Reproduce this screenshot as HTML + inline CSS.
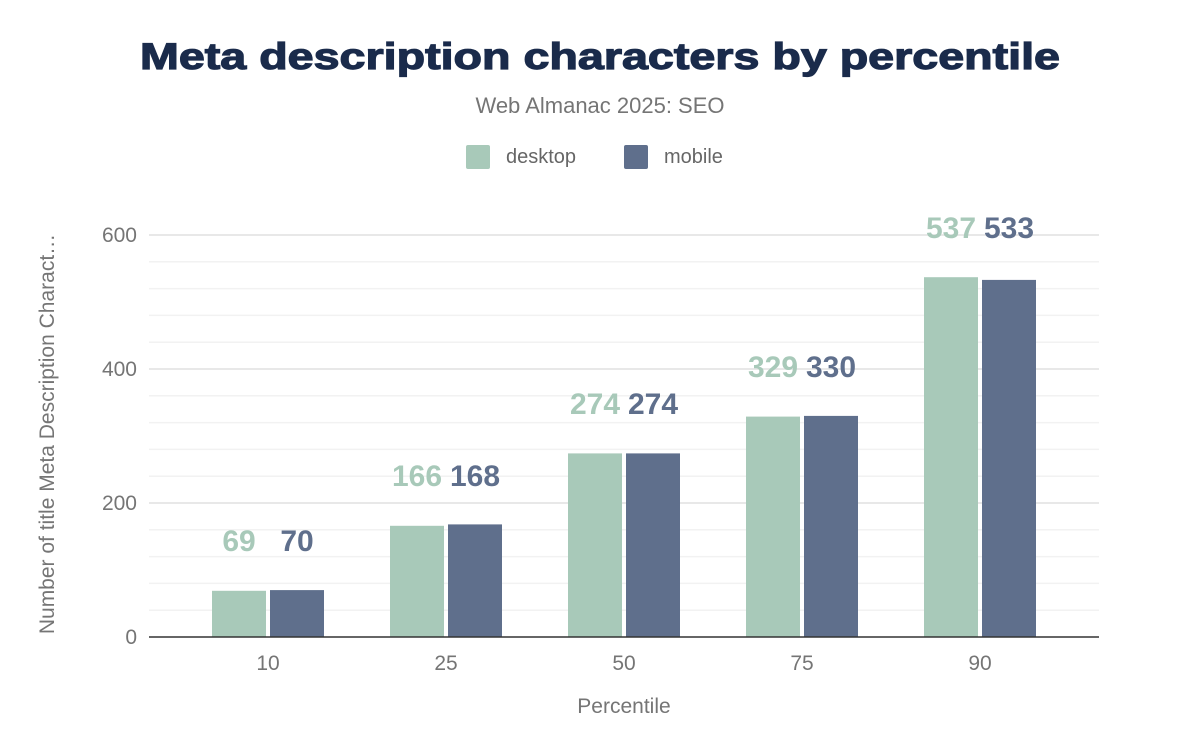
<!DOCTYPE html><html><head><style>body{margin:0;background:#fff}</style></head><body>
<svg width="1200" height="742" xmlns="http://www.w3.org/2000/svg" font-family="Liberation Sans, sans-serif">
<text x="600" y="69" text-anchor="middle" font-size="37" font-weight="900" fill="#1a2b4b" stroke="#1a2b4b" stroke-width="1.2" textLength="920" lengthAdjust="spacingAndGlyphs">Meta description characters by percentile</text>
<text x="600" y="113" text-anchor="middle" font-size="22" fill="#757575">Web Almanac 2025: SEO</text>
<rect x="466" y="145" width="24" height="24" rx="2" fill="#a8c9b9"/><text x="506" y="163" font-size="20" fill="#666">desktop</text>
<rect x="624" y="145" width="24" height="24" rx="2" fill="#5f6f8c"/><text x="664" y="163" font-size="20" fill="#666">mobile</text>
<g stroke="#f2f2f2" stroke-width="1.5">
<line x1="149" x2="1099" y1="610.2" y2="610.2"/><line x1="149" x2="1099" y1="583.4" y2="583.4"/><line x1="149" x2="1099" y1="556.6" y2="556.6"/><line x1="149" x2="1099" y1="529.8" y2="529.8"/>
<line x1="149" x2="1099" y1="476.2" y2="476.2"/><line x1="149" x2="1099" y1="449.4" y2="449.4"/><line x1="149" x2="1099" y1="422.6" y2="422.6"/><line x1="149" x2="1099" y1="395.8" y2="395.8"/>
<line x1="149" x2="1099" y1="342.2" y2="342.2"/><line x1="149" x2="1099" y1="315.4" y2="315.4"/><line x1="149" x2="1099" y1="288.6" y2="288.6"/><line x1="149" x2="1099" y1="261.8" y2="261.8"/>
</g>
<g stroke="#e8e8e8" stroke-width="2"><line x1="149" x2="1099" y1="503" y2="503"/><line x1="149" x2="1099" y1="369" y2="369"/><line x1="149" x2="1099" y1="235" y2="235"/></g>
<g font-size="21" fill="#757575" text-anchor="end"><text x="137" y="644">0</text><text x="137" y="510">200</text><text x="137" y="376">400</text><text x="137" y="242">600</text></g>
<g fill="#a8c9b9"><rect x="212" y="590.8" width="54" height="46.2"/><rect x="390" y="525.8" width="54" height="111.2"/><rect x="568" y="453.4" width="54" height="183.6"/><rect x="746" y="416.6" width="54" height="220.4"/><rect x="924" y="277.2" width="54" height="359.8"/></g>
<g fill="#5f6f8c"><rect x="270" y="590.1" width="54" height="46.9"/><rect x="448" y="524.4" width="54" height="112.6"/><rect x="626" y="453.4" width="54" height="183.6"/><rect x="804" y="415.9" width="54" height="221.1"/><rect x="982" y="279.9" width="54" height="357.1"/></g>
<line x1="149" x2="1099" y1="637" y2="637" stroke="#333" stroke-width="1.5"/>
<g font-size="30" font-weight="bold" text-anchor="middle">
<g fill="#a8c9b9"><text x="239" y="551">69</text><text x="417" y="486">166</text><text x="595" y="414">274</text><text x="773" y="377">329</text><text x="951" y="238">537</text></g>
<g fill="#5f6f8c"><text x="297" y="551">70</text><text x="475" y="486">168</text><text x="653" y="414">274</text><text x="831" y="377">330</text><text x="1009" y="238">533</text></g>
</g>
<g font-size="21" fill="#757575" text-anchor="middle"><text x="268" y="670">10</text><text x="446" y="670">25</text><text x="624" y="670">50</text><text x="802" y="670">75</text><text x="980" y="670">90</text>
<text x="624" y="713">Percentile</text>
<text transform="translate(54,434) rotate(-90)">Number of title Meta Description Charact…</text></g>
</svg></body></html>
